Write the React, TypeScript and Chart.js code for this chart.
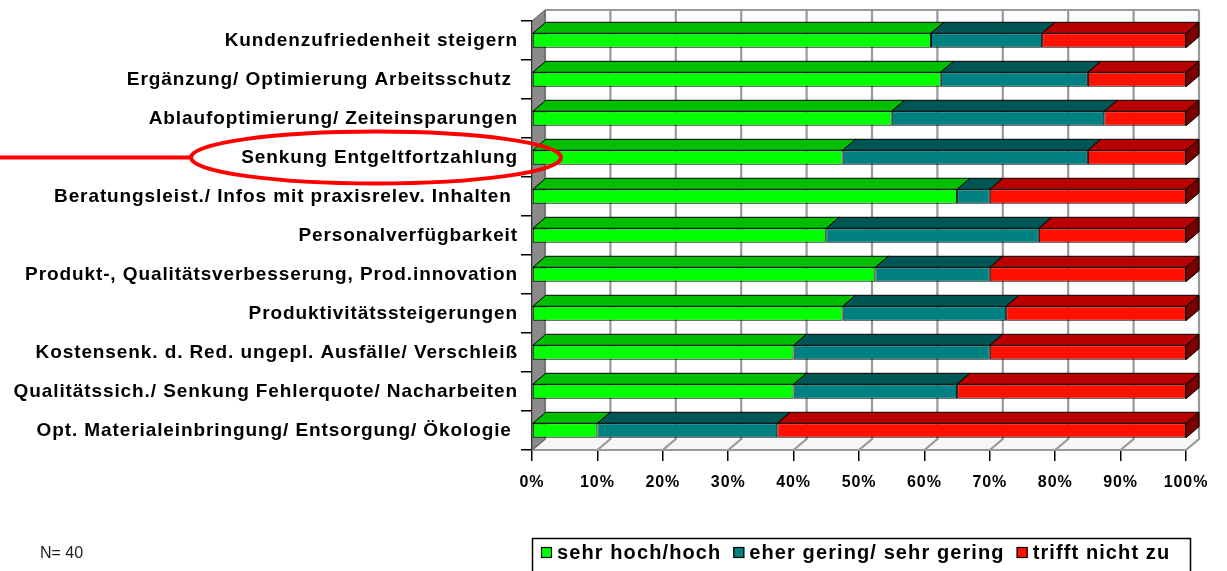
import { useEffect, useRef } from "react";
import { Chart, registerables } from "chart.js";

Chart.register(...registerables);

const categories = [
  "Kundenzufriedenheit steigern",
  "Ergänzung/ Optimierung Arbeitsschutz ",
  "Ablaufoptimierung/ Zeiteinsparungen",
  "Senkung Entgeltfortzahlung",
  "Beratungsleist./ Infos mit praxisrelev. Inhalten ",
  "Personalverfügbarkeit",
  "Produkt-, Qualitätsverbesserung, Prod.innovation",
  "Produktivitätssteigerungen",
  "Kostensenk. d. Red. ungepl. Ausfälle/ Verschleiß",
  "Qualitätssich./ Senkung Fehlerquote/ Nacharbeiten",
  "Opt. Materialeinbringung/ Entsorgung/ Ökologie ",
];

const seriesNames = ["sehr hoch/hoch", "eher gering/ sehr gering", "trifft nicht zu"];
const sehrHoch = [61, 62.5, 55, 47.5, 65, 45, 52.5, 47.5, 40, 40, 10];
const eherGering = [17, 22.5, 32.5, 37.5, 5, 32.5, 17.5, 25, 30, 25, 27.5];
const trifftNicht = [22, 15, 12.5, 15, 30, 22.5, 30, 27.5, 30, 35, 62.5];

const xTickValues = [0, 10, 20, 30, 40, 50, 60, 70, 80, 90, 100];
const noteText = "N= 40";
const highlightedCategory = "Senkung Entgeltfortzahlung";

const frontColors = ["#00FF00", "#008080", "#FF1000"];
const topColors = ["#00BE00", "#005555", "#B80000"];
const sideColor = "#7A0000";

const FONT = "'Liberation Sans', Arial, sans-serif";
const DX = 13;
const DY = 11;

const threeD = {
  id: "threeD",
  beforeDraw(chart: any) {
    chart.ctx.letterSpacing = "0.9px";
  },
  beforeDatasetsDraw(chart: any) {
    const { ctx, chartArea: a, scales } = chart;
    const x = scales.x;
    ctx.save();
    ctx.fillStyle = "#ffffff";
    ctx.fillRect(a.left + DX, a.top - DY, a.right - a.left, a.bottom - a.top);
    ctx.beginPath();
    ctx.moveTo(a.left, a.bottom);
    ctx.lineTo(a.right, a.bottom);
    ctx.lineTo(a.right + DX, a.bottom - DY);
    ctx.lineTo(a.left + DX, a.bottom - DY);
    ctx.closePath();
    ctx.fillStyle = "#f6f6f6";
    ctx.fill();
    ctx.strokeStyle = "#999999";
    ctx.lineWidth = 2.2;
    xTickValues.forEach((v) => {
      const px = x.getPixelForValue(v);
      ctx.beginPath();
      ctx.moveTo(px + DX, a.top - DY);
      ctx.lineTo(px + DX, a.bottom - DY);
      ctx.lineTo(px, a.bottom);
      ctx.stroke();
    });
    ctx.beginPath();
    ctx.moveTo(a.left + DX, a.top - DY);
    ctx.lineTo(a.right + DX, a.top - DY);
    ctx.stroke();
    ctx.beginPath();
    ctx.moveTo(a.left, a.bottom);
    ctx.lineTo(a.right, a.bottom);
    ctx.stroke();
    ctx.beginPath();
    ctx.moveTo(a.left, a.top);
    ctx.lineTo(a.left + DX, a.top - DY);
    ctx.lineTo(a.left + DX, a.bottom - DY);
    ctx.lineTo(a.left, a.bottom);
    ctx.closePath();
    ctx.fillStyle = "#8a8a8a";
    ctx.fill();
    ctx.strokeStyle = "#5a5a5a";
    ctx.lineWidth = 1;
    ctx.stroke();
    ctx.restore();
  },
  afterDatasetsDraw(chart: any) {
    const { ctx } = chart;
    ctx.save();
    const n = chart.data.datasets.length;
    chart.data.datasets.forEach((_ds: any, di: number) => {
      const meta = chart.getDatasetMeta(di);
      meta.data.forEach((bar: any) => {
        const p = bar.getProps(["x", "y", "base", "height"], true);
        const top = p.y - p.height / 2;
        const bottom = p.y + p.height / 2;
        const x0 = Math.min(p.base, p.x);
        const x1 = Math.max(p.base, p.x);
        ctx.lineWidth = 1;
        ctx.strokeStyle = "#000";
        ctx.beginPath();
        ctx.moveTo(x0, top);
        ctx.lineTo(x1, top);
        ctx.lineTo(x1 + DX, top - DY);
        ctx.lineTo(x0 + DX, top - DY);
        ctx.closePath();
        ctx.fillStyle = topColors[di];
        ctx.fill();
        ctx.stroke();
        if (di === n - 1) {
          ctx.beginPath();
          ctx.moveTo(x1, top);
          ctx.lineTo(x1 + DX, top - DY);
          ctx.lineTo(x1 + DX, bottom - DY);
          ctx.lineTo(x1, bottom);
          ctx.closePath();
          ctx.fillStyle = sideColor;
          ctx.fill();
          ctx.stroke();
        }
      });
    });
    ctx.restore();
    ctx.letterSpacing = "0.5px";
  },
  afterDraw(chart: any) {
    const { ctx, scales, chartArea: a } = chart;
    ctx.save();
    ctx.textBaseline = "middle";
    ctx.textAlign = "left";
    // N note
    ctx.letterSpacing = "0px";
    ctx.fillStyle = "#222";
    ctx.font = `16px ${FONT}`;
    ctx.fillText(noteText, 40, 554);
    // legend
    ctx.letterSpacing = "1.1px";
    ctx.font = `bold 20px ${FONT}`;
    const boxLeft = a.left;
    const boxTop = 538.5;
    ctx.strokeStyle = "#000";
    ctx.lineWidth = 1.5;
    ctx.strokeRect(boxLeft + 0.5, boxTop, 658, 45);
    let cx = boxLeft + 9;
    const cy = 553;
    chart.data.datasets.forEach((ds: any, i: number) => {
      ctx.fillStyle = frontColors[i];
      ctx.fillRect(cx, cy - 6, 11, 11);
      ctx.lineWidth = 1.2;
      ctx.strokeRect(cx + 0.5, cy - 5.5, 10, 10);
      ctx.fillStyle = "#000";
      const tx = cx + 16;
      ctx.fillText(ds.label, tx, cy);
      cx = tx + ctx.measureText(ds.label).width + 12;
    });
    // red highlight ellipse around one category
    const y = scales.y;
    const idx = categories.indexOf(highlightedCategory);
    const ey = y.getPixelForValue(idx);
    ctx.strokeStyle = "#FF0000";
    ctx.lineWidth = 4;
    ctx.beginPath();
    ctx.ellipse(376, ey, 185, 26, 0, 0, Math.PI * 2);
    ctx.stroke();
    ctx.beginPath();
    ctx.moveTo(0, ey);
    ctx.lineTo(191, ey);
    ctx.stroke();
    ctx.restore();
  },
};

export default function App() {
  const ref = useRef<HTMLCanvasElement>(null);
  useEffect(() => {
    const series = [sehrHoch, eherGering, trifftNicht];
    const chart = new Chart(ref.current as HTMLCanvasElement, {
      type: "bar",
      data: {
        labels: categories,
        datasets: series.map((d, i) => ({
          label: seriesNames[i],
          data: d,
          backgroundColor: frontColors[i],
          borderColor: "#000",
          borderWidth: 1,
          borderSkipped: false,
          barPercentage: 0.37,
          categoryPercentage: 1,
        })),
      },
      options: {
        indexAxis: "y",
        animation: false,
        responsive: true,
        maintainAspectRatio: false,
        layout: { padding: { left: 0, top: 21, right: 41, bottom: 0 } },
        plugins: {
          legend: { display: false },
          tooltip: { enabled: false },
        },
        scales: {
          x: {
            type: "linear",
            stacked: true,
            min: 0,
            max: 100,
            position: "bottom",
            z: 1,
            afterFit: (s: any) => {
              s.height = 121;
            },
            ticks: {
              stepSize: 10,
              autoSkip: false,
              maxRotation: 0,
              padding: 12,
              color: "#000",
              font: { family: FONT, size: 16, weight: "bold" },
              callback: (v: any) => `${v}%`,
            },
            grid: {
              display: true,
              drawOnChartArea: false,
              drawTicks: true,
              tickLength: 11,
              color: "#000",
              lineWidth: 1.5,
            },
            border: { display: true, color: "#000", width: 1.5 },
          },
          y: {
            type: "category",
            stacked: true,
            offset: true,
            afterFit: (s: any) => {
              s.width = 532;
            },
            ticks: {
              autoSkip: false,
              padding: 3,
              color: "#000",
              font: { family: FONT, size: 19, weight: "bold" },
            },
            grid: {
              display: true,
              offset: true,
              drawOnChartArea: false,
              drawTicks: true,
              tickLength: 11,
              color: "#000",
              lineWidth: 1.5,
            },
            border: { display: true, color: "#000", width: 1.5 },
          },
        },
      },
      plugins: [threeD],
    } as any);
    return () => chart.destroy();
  }, []);
  return (
    <div style={{ position: "absolute", left: 0, top: 0, width: 1227, height: 571, background: "#fff" }}>
      <canvas ref={ref} />
    </div>
  );
}
